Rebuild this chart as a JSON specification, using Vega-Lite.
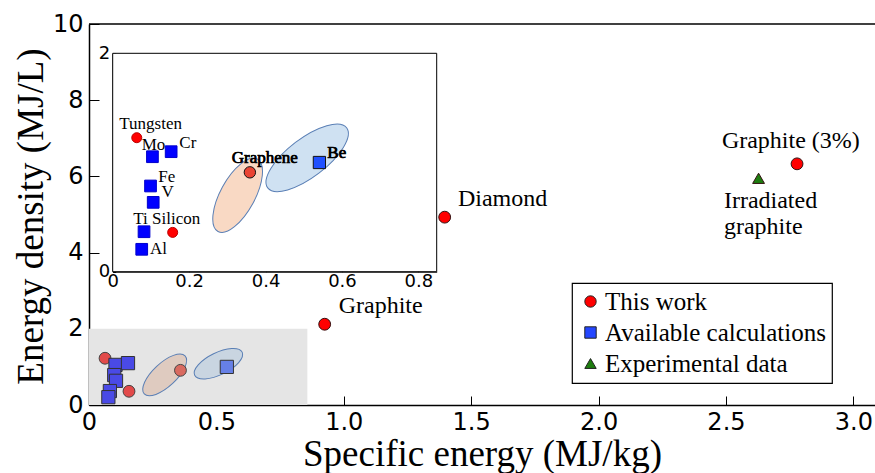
{
  "$schema": "https://vega.github.io/schema/vega-lite/v6.json",
  "width": 786,
  "height": 381,
  "autosize": {"type": "none"},
  "padding": {"left": 89, "top": 24, "right": 0, "bottom": 68},
  "background": "white",
  "config": {
    "view": {"stroke": null},
    "axis": {"grid": false, "domainColor": "black", "tickColor": "black", "labelColor": "black", "labelFont": "DejaVu Sans", "titleFont": "Liberation Serif", "titleColor": "black", "titleFontWeight": "normal", "labelFlush": false, "zindex": 1},
    "legend": {"orient": "none", "legendX": 483, "legendY": 259, "strokeColor": "black", "strokeWidth": 1.2, "fillColor": "white", "padding": 6, "cornerRadius": 0, "labelFont": "Liberation Serif", "labelFontSize": 25, "labelColor": "black", "symbolSize": 130, "symbolStrokeColor": "#222222", "symbolStrokeWidth": 1, "rowPadding": 5, "labelOffset": 2, "labelLimit": 400}
  },
  "datasets": {
    "materials": [
      {"name": "Tungsten", "type": "This work", "x": 0.063, "y": 1.227},
      {"name": "Silicon", "type": "This work", "x": 0.157, "y": 0.36},
      {"name": "Graphene", "type": "This work", "x": 0.359, "y": 0.91},
      {"name": "Mo", "type": "Available calculations", "x": 0.104, "y": 1.053},
      {"name": "Cr", "type": "Available calculations", "x": 0.153, "y": 1.099},
      {"name": "Fe", "type": "Available calculations", "x": 0.099, "y": 0.785},
      {"name": "V", "type": "Available calculations", "x": 0.106, "y": 0.635},
      {"name": "Ti", "type": "Available calculations", "x": 0.082, "y": 0.366},
      {"name": "Al", "type": "Available calculations", "x": 0.076, "y": 0.205},
      {"name": "Be", "type": "Available calculations", "x": 0.541, "y": 1.0}
    ],
    "insetLabels": [
      {"label": "Tungsten", "x": 0.0173, "y": 1.353},
      {"label": "Mo", "x": 0.0759, "y": 1.16},
      {"label": "Cr", "x": 0.1744, "y": 1.176},
      {"label": "Fe", "x": 0.1194, "y": 0.87},
      {"label": "V", "x": 0.128, "y": 0.727},
      {"label": "Ti Silicon", "x": 0.054, "y": 0.483},
      {"label": "Al", "x": 0.0976, "y": 0.205},
      {"label": "Graphene", "x": 0.3115, "y": 1.038},
      {"label": "Be", "x": 0.5618, "y": 1.09}
    ],
    "mainPoints": [
      {"name": "Graphite", "type": "This work", "x": 0.925, "y": 2.12},
      {"name": "Diamond", "type": "This work", "x": 1.396, "y": 4.93},
      {"name": "Graphite (3%)", "type": "This work", "x": 2.779, "y": 6.33},
      {"name": "Irradiated graphite", "type": "Experimental data", "x": 2.628, "y": 5.95}
    ],
    "mainLabels": [
      {"label": "Graphite", "x": 0.98, "y": 2.606},
      {"label": "Diamond", "x": 1.448, "y": 5.4},
      {"label": "Graphite (3%)", "x": 2.484, "y": 6.93},
      {"label": "Irradiated", "x": 2.492, "y": 5.354},
      {"label": "graphite", "x": 2.492, "y": 4.664}
    ]
  },
  "layer": [
    {
      "encoding": {
        "x": {"field": "x", "type": "quantitative", "scale": {"domain": [0, 3.085], "nice": false, "zero": false},
          "axis": {"orient": "bottom", "values": [0, 0.5, 1, 1.5, 2, 2.5, 3], "labelExpr": "datum.value == 0 ? '0' : format(datum.value, '.1f')", "labelFontSize": 24, "tickSize": -9, "tickWidth": 1, "domainWidth": 1.5, "labelPadding": 14, "title": "Specific energy (MJ/kg)", "titleFontSize": 37, "titleX": 393, "titleY": 60, "titleBaseline": "alphabetic", "titleAlign": "center"}},
        "y": {"field": "y", "type": "quantitative", "scale": {"domain": [0, 10], "nice": false, "zero": false},
          "axis": {"orient": "left", "values": [0, 2, 4, 6, 8, 10], "format": "d", "labelFontSize": 24, "tickSize": -10, "tickWidth": 1, "domainWidth": 1.5, "labelPadding": 16, "title": "Energy density (MJ/L)", "titleFontSize": 37, "titleAngle": 270, "titleX": -47, "titleY": 192, "titleBaseline": "alphabetic", "titleAlign": "center"}}
      },
      "layer": [
        {
          "data": {"values": [{"x": 0, "x2": 0.857, "y": 0, "y2": 2}]},
          "mark": {"type": "rect", "fill": "#e5e5e5"},
          "encoding": {"x2": {"field": "x2"}, "y2": {"field": "y2"}}
        },
        {
          "data": {"values": [{"x": 0, "x2": 3.085, "y": 10}]},
          "mark": {"type": "rule", "color": "black", "strokeWidth": 1.5},
          "encoding": {"x2": {"field": "x2"}}
        },
        {
          "data": {"values": [{"region": "This work", "x": 0.297, "y": 0.79}]},
          "mark": {"type": "point", "filled": true, "shape": "M -1 0 C -1 -0.232 -0.552 -0.42 0 -0.42 C 0.552 -0.42 1 -0.232 1 0 C 1 0.232 0.552 0.42 0 0.42 C -0.552 0.42 -1 0.232 -1 0 Z", "size": 3114, "angle": 317, "fill": "#dfcbc0", "stroke": "#5a7fb5", "strokeWidth": 1, "opacity": 1}
        },
        {
          "data": {"values": [{"region": "Available calculations", "x": 0.508, "y": 1.084}]},
          "mark": {"type": "point", "filled": true, "shape": "M -1 0 C -1 -0.232 -0.552 -0.42 0 -0.42 C 0.552 -0.42 1 -0.232 1 0 C 1 0.232 0.552 0.42 0 0.42 C -0.552 0.42 -1 0.232 -1 0 Z", "size": 2788, "angle": 334, "fill": "#c9d5e1", "stroke": "#5a7fb5", "strokeWidth": 1, "opacity": 1}
        },
        {
          "data": {"name": "materials"},
          "transform": [{"filter": "datum.type === 'This work'"}],
          "mark": {"type": "point", "shape": "circle", "filled": true, "size": 140, "stroke": "#444444", "strokeWidth": 1, "opacity": 1},
          "encoding": {"fill": {"condition": {"test": "datum.name === 'Graphene'", "value": "#d96a60"}, "value": "#e24a4a"}}
        },
        {
          "data": {"name": "materials"},
          "transform": [{"filter": "datum.type === 'Available calculations'"}],
          "mark": {"type": "point", "shape": "square", "filled": true, "size": 175, "stroke": "#333333", "strokeWidth": 1, "opacity": 1},
          "encoding": {"fill": {"condition": {"test": "datum.name === 'Be'", "value": "#6680e6"}, "value": "#4a4ae6"}}
        }
      ]
    },
    {
      "encoding": {
        "x": {"field": "x", "type": "quantitative", "scale": {"domain": [0, 0.848], "range": [23.7, 347.7], "nice": false, "zero": false},
          "axis": {"orient": "bottom", "offset": -133.3, "values": [0, 0.2, 0.4, 0.6, 0.8], "labelExpr": "datum.value == 0 ? '0' : format(datum.value, '.1f')", "labelFontSize": 18, "tickSize": -3, "tickWidth": 1, "domainWidth": 1, "labelPadding": 4, "title": null}},
        "y": {"field": "y", "type": "quantitative", "scale": {"domain": [0, 2], "range": [247.7, 29.3], "nice": false, "zero": false},
          "axis": {"orient": "left", "offset": -23.7, "values": [0, 1, 2], "format": "d", "labelFontSize": 18, "tickSize": -3, "tickWidth": 1, "domainWidth": 1, "labelPadding": 6, "title": null}}
      },
      "layer": [
        {
          "data": {"values": [{"x": 0, "x2": 0.848, "y": 0, "y2": 2}]},
          "mark": {"type": "rect", "fill": "white", "stroke": "black", "strokeWidth": 1},
          "encoding": {"x2": {"field": "x2"}, "y2": {"field": "y2"}}
        },
        {
          "data": {"values": [{"region": "This work", "x": 0.327, "y": 0.7}]},
          "mark": {"type": "point", "filled": true, "shape": "M -1 0 C -1 -0.232 -0.552 -0.42 0 -0.42 C 0.552 -0.42 1 -0.232 1 0 C 1 0.232 0.552 0.42 0 0.42 C -0.552 0.42 -1 0.232 -1 0 Z", "size": 6790, "angle": 298.5, "fill": "#f9d9c4", "stroke": "#5a7fb5", "strokeWidth": 1, "opacity": 1}
        },
        {
          "data": {"values": [{"region": "Available calculations", "x": 0.509, "y": 1.043}]},
          "mark": {"type": "point", "filled": true, "shape": "M -1 0 C -1 -0.215 -0.552 -0.39 0 -0.39 C 0.552 -0.39 1 -0.215 1 0 C 1 0.215 0.552 0.39 0 0.39 C -0.552 0.39 -1 0.215 -1 0 Z", "size": 9841, "angle": 322.7, "fill": "#cfe1f2", "stroke": "#5a7fb5", "strokeWidth": 1, "opacity": 1}
        },
        {
          "data": {"name": "insetLabels"},
          "mark": {"type": "text", "align": "left", "baseline": "middle", "font": "Liberation Serif", "fontSize": 17, "color": "black"},
          "encoding": {"text": {"field": "label"}}
        },
        {
          "data": {"name": "insetLabels"},
          "transform": [{"filter": "datum.label === 'Graphene' || datum.label === 'Be'"}],
          "mark": {"type": "text", "align": "left", "baseline": "middle", "font": "Liberation Serif", "fontSize": 17, "color": "black", "stroke": "black", "strokeWidth": 0.6},
          "encoding": {"text": {"field": "label"}}
        },
        {
          "data": {"name": "materials"},
          "transform": [{"filter": "datum.type === 'This work'"}],
          "mark": {"type": "point", "shape": "circle", "filled": true, "strokeWidth": 1, "opacity": 1},
          "encoding": {
            "fill": {"condition": {"test": "datum.name === 'Graphene'", "value": "#ea4433"}, "value": "#ff0000"},
            "stroke": {"condition": {"test": "datum.name === 'Graphene'", "value": "#111111"}, "value": "#bb0000"},
            "size": {"condition": {"test": "datum.name === 'Graphene'", "value": 130}, "value": 100}
          }
        },
        {
          "data": {"name": "materials"},
          "transform": [{"filter": "datum.type === 'Available calculations'"}],
          "mark": {"type": "point", "shape": "square", "filled": true, "strokeWidth": 1, "opacity": 1},
          "encoding": {
            "fill": {"condition": {"test": "datum.name === 'Be'", "value": "#2050ff"}, "value": "#0000ff"},
            "stroke": {"condition": {"test": "datum.name === 'Be'", "value": "#111111"}, "value": "#0000cc"},
            "size": {"condition": {"test": "datum.name === 'Be'", "value": 150}, "value": 137}
          }
        }
      ]
    },
    {
      "encoding": {
        "x": {"field": "x", "type": "quantitative", "scale": {"domain": [0, 3.085], "nice": false, "zero": false}, "axis": null},
        "y": {"field": "y", "type": "quantitative", "scale": {"domain": [0, 10], "nice": false, "zero": false}, "axis": null}
      },
      "layer": [
        {
          "data": {"name": "mainPoints"},
          "mark": {"type": "point", "filled": true, "size": 140, "stroke": "#331111", "strokeWidth": 1, "opacity": 1},
          "encoding": {
            "color": {"field": "type", "type": "nominal", "scale": {"domain": ["This work", "Available calculations", "Experimental data"], "range": ["#ff0000", "#2446ff", "#1e7d10"]},
              "legend": {"title": null, "labelExpr": "datum.label + '\u00a0\u00a0\u00a0'", "encode": {"symbols": {"update": {"fill": {"signal": "datum.value === 'This work' ? '#f04a36' : datum.value === 'Available calculations' ? '#2446ff' : '#2a7d0e'"}}}}}},
            "shape": {"field": "type", "type": "nominal", "scale": {"domain": ["This work", "Available calculations", "Experimental data"], "range": ["circle", "square", "triangle-up"]}, "legend": {"title": null, "labelExpr": "datum.label + '\u00a0\u00a0\u00a0'"}}
          }
        },
        {
          "data": {"name": "mainLabels"},
          "mark": {"type": "text", "align": "left", "baseline": "middle", "font": "Liberation Serif", "fontSize": 24, "color": "black"},
          "encoding": {"text": {"field": "label"}}
        }
      ]
    }
  ],
  "resolve": {"scale": {"x": "independent", "y": "independent"}}
}
